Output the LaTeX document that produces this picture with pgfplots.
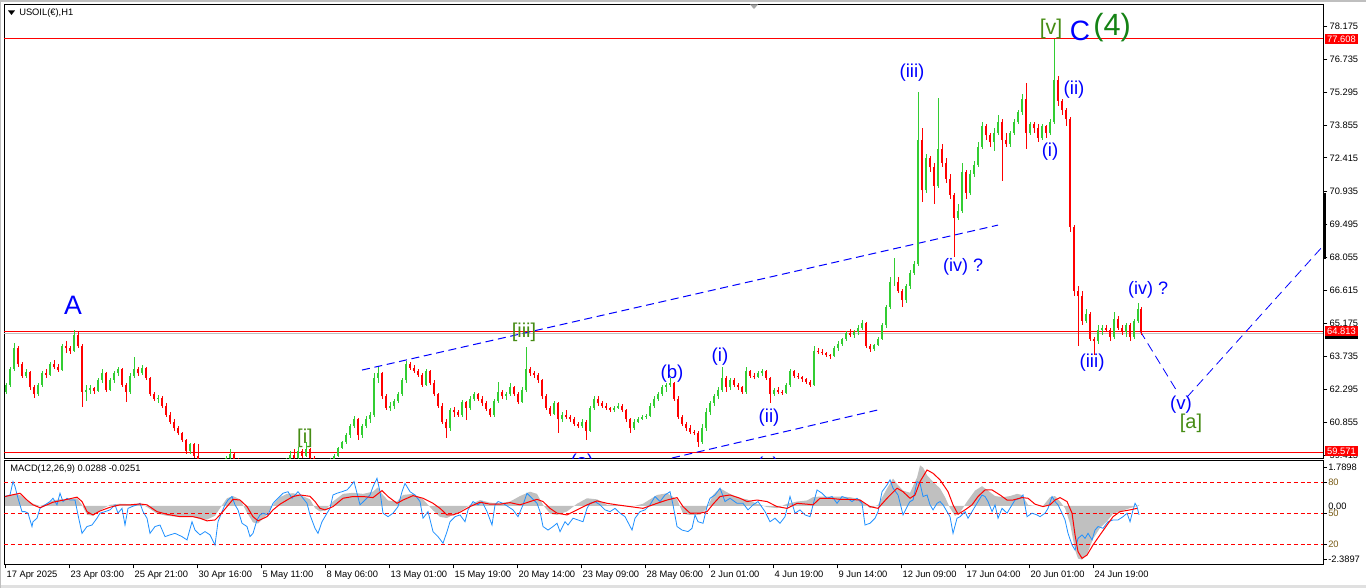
\documentclass[border=0pt]{standalone}
\usepackage{fontspec}
\setmainfont{Liberation Sans}
\usepackage{pgfplots}
\pgfplotsset{compat=1.18}
\usepackage{pgfplotstable}

\definecolor{candleup}{RGB}{50,205,50}
\definecolor{candledn}{RGB}{255,0,0}
\definecolor{wave}{RGB}{0,0,255}
\definecolor{wavegreen}{RGB}{70,140,20}
\definecolor{degree}{RGB}{20,130,20}
\definecolor{histo}{RGB}{192,192,192}
\definecolor{macdblue}{RGB}{30,144,255}
\definecolor{lvl}{RGB}{120,90,20}

% hourly USOIL candles, grouped (x = screen position)
\pgfplotstableread{
x o h l c
6 62.20 62.60 62.10 62.50
10 62.50 63.30 62.40 63.20
14 63.20 64.35 63.10 64.10
18 64.10 64.20 63.30 63.40
22 63.40 63.50 62.80 62.90
26 62.90 63.20 62.80 63.05
30 63.05 63.10 62.30 62.40
34 62.40 62.50 61.95 62.10
38 62.10 62.60 62.00 62.50
42 62.50 63.10 62.40 63.00
46 63.00 63.20 62.80 62.95
50 62.95 63.50 62.90 63.40
54 63.40 63.60 63.20 63.30
58 63.30 63.40 63.05 63.15
62 63.15 64.30 63.10 64.20
66 64.20 64.40 63.90 64.10
70 64.10 64.20 63.85 64.00
74 64.00 64.90 63.95 64.70
78 64.70 64.80 64.10 64.20
82 64.20 64.30 61.55 62.20
86 62.20 62.50 61.80 62.30
90 62.30 62.50 62.10 62.35
94 62.35 62.40 62.10 62.25
98 62.25 62.80 62.20 62.70
102 62.70 63.20 62.60 63.00
106 63.00 63.05 62.20 62.30
110 62.30 62.80 62.25 62.70
114 62.70 63.10 62.60 63.00
118 63.00 63.30 62.90 63.20
122 63.20 63.25 62.40 62.50
126 62.50 62.60 61.75 62.20
130 62.20 63.00 62.10 62.90
134 62.90 63.70 62.80 63.20
138 63.20 63.30 62.90 63.00
142 63.00 63.35 62.95 63.25
146 63.25 63.30 62.70 62.80
150 62.80 62.85 62.00 62.10
154 62.10 62.20 61.80 61.90
158 61.90 62.05 61.70 61.95
162 61.95 62.00 61.50 61.60
166 61.60 61.70 61.10 61.20
170 61.20 61.30 60.80 60.90
174 60.90 61.00 60.50 60.60
178 60.60 60.70 60.30 60.40
182 60.40 60.45 60.00 60.10
186 60.10 60.15 59.50 59.60
190 59.60 59.98 59.50 59.90
194 59.90 59.98 59.30 59.40
198 59.40 59.90 58.90 59.00
202 59.00 59.20 58.70 58.80
206 58.80 59.00 58.50 58.70
210 58.70 58.90 58.40 58.60
214 58.60 58.80 58.30 58.50
218 58.50 58.90 58.40 58.80
222 58.80 59.20 58.70 59.10
226 59.10 59.40 59.00 59.30
230 59.30 59.70 59.20 59.50
234 59.50 59.55 59.10 59.20
238 59.20 59.30 58.80 58.90
242 58.90 59.00 58.60 58.70
246 58.70 58.80 58.40 58.50
250 58.50 58.70 58.30 58.60
254 58.60 58.80 58.40 58.50
258 58.50 58.60 58.20 58.30
262 58.30 58.60 58.20 58.50
266 58.50 58.80 58.40 58.70
270 58.70 58.90 58.50 58.60
274 58.60 59.00 58.50 58.90
278 58.90 59.10 58.70 59.00
282 59.00 59.20 58.80 58.90
286 58.90 59.30 58.85 59.20
290 59.20 59.60 59.10 59.45
294 59.45 59.70 59.20 59.30
298 59.30 59.80 59.25 59.60
302 59.60 59.70 59.30 59.40
306 59.40 60.00 59.35 59.70
310 59.70 59.75 59.20 59.30
314 59.30 59.40 58.90 59.00
318 59.00 59.10 58.80 58.90
322 58.90 59.00 58.70 58.80
326 58.80 59.10 58.70 59.00
330 59.00 59.30 58.90 59.20
334 59.20 59.50 59.10 59.40
338 59.40 59.80 59.35 59.75
342 59.75 60.05 59.70 60.00
346 60.00 60.40 59.90 60.30
350 60.30 60.80 60.20 60.70
354 60.70 61.15 60.60 61.00
358 61.00 61.05 60.10 60.30
362 60.30 60.80 60.20 60.70
366 60.70 61.15 60.60 61.00
370 61.00 61.30 60.85 61.20
374 61.20 63.00 61.10 62.80
378 62.80 63.30 62.60 63.00
382 63.00 63.05 61.90 62.00
386 62.00 62.10 61.40 61.50
390 61.50 61.75 61.35 61.60
394 61.60 61.90 61.45 61.80
398 61.80 62.20 61.70 62.10
402 62.10 62.80 62.00 62.70
406 62.70 63.55 62.60 63.40
410 63.40 63.50 63.15 63.25
414 63.25 63.35 63.00 63.10
418 63.10 63.20 62.85 62.95
422 62.95 63.00 62.40 62.50
426 62.50 63.20 62.45 63.10
430 63.10 63.15 62.50 62.60
434 62.60 62.70 62.00 62.10
438 62.10 62.15 61.50 61.60
442 61.60 61.70 60.80 60.90
446 60.90 61.00 60.20 60.60
450 60.60 61.50 60.50 61.40
454 61.40 61.55 61.10 61.30
458 61.30 61.40 61.10 61.20
462 61.20 61.85 61.10 61.75
466 61.75 61.80 60.95 61.50
470 61.50 62.00 61.40 61.90
474 61.90 62.20 61.80 62.10
478 62.10 62.15 61.80 61.90
482 61.90 62.00 61.60 61.70
486 61.70 61.80 61.35 61.45
490 61.45 61.50 61.10 61.20
494 61.20 61.90 61.10 61.80
498 61.80 62.65 61.70 62.20
502 62.20 62.30 61.90 62.00
506 62.00 62.20 61.85 62.10
510 62.10 62.60 62.00 62.40
514 62.40 62.45 62.00 62.10
518 62.10 62.20 61.65 61.75
522 61.75 62.40 61.70 62.30
526 62.30 64.15 62.20 63.20
530 63.20 63.30 62.90 63.00
534 63.00 63.10 62.80 62.95
538 62.95 63.00 62.60 62.70
542 62.70 62.75 61.90 62.00
546 62.00 62.10 61.40 61.50
550 61.50 61.60 61.15 61.25
554 61.25 61.80 61.20 61.70
558 61.70 61.75 60.40 61.00
562 61.00 61.30 60.90 61.20
566 61.20 61.40 61.00 61.10
570 61.10 61.20 60.90 61.00
574 61.00 61.10 60.70 60.80
578 60.80 60.90 60.60 60.70
582 60.70 61.00 60.60 60.90
586 60.90 60.95 60.10 60.50
590 60.50 61.60 60.45 61.50
594 61.50 62.00 61.40 61.90
598 61.90 62.00 61.60 61.70
602 61.70 61.80 61.50 61.60
606 61.60 61.70 61.40 61.50
610 61.50 61.55 61.30 61.40
614 61.40 61.60 61.30 61.50
618 61.50 61.70 61.45 61.60
622 61.60 61.65 61.30 61.40
626 61.40 61.45 60.90 61.00
630 61.00 61.05 60.40 60.60
634 60.60 61.00 60.55 60.90
638 60.90 61.10 60.85 61.00
642 61.00 61.20 60.95 61.10
646 61.10 61.25 61.00 61.15
650 61.15 61.70 61.10 61.60
654 61.60 62.00 61.50 61.90
658 61.90 62.20 61.80 62.10
662 62.10 62.50 62.00 62.40
666 62.40 62.60 62.20 62.50
670 62.50 62.80 62.40 62.60
674 62.60 62.65 61.80 61.90
678 61.90 62.00 61.00 61.10
682 61.10 61.20 60.70 60.80
686 60.80 60.90 60.50 60.60
690 60.60 60.75 60.35 60.45
694 60.45 60.55 60.30 60.40
698 60.40 60.50 59.80 60.00
702 60.00 60.80 59.90 60.60
706 60.60 61.50 60.50 61.30
710 61.30 61.80 61.20 61.70
714 61.70 62.10 61.60 62.00
718 62.00 62.40 61.90 62.30
722 62.30 63.30 62.20 62.80
726 62.80 62.90 62.20 62.40
730 62.40 62.80 62.30 62.70
734 62.70 62.80 62.40 62.50
738 62.50 62.60 62.30 62.40
742 62.40 62.45 62.10 62.20
746 62.20 63.30 62.10 63.10
750 63.10 63.15 62.80 62.90
754 62.90 63.00 62.75 62.85
758 62.85 63.10 62.80 63.00
762 63.00 63.20 62.90 63.10
766 63.10 63.15 62.70 62.80
770 62.80 62.85 61.70 62.10
774 62.10 62.35 62.00 62.30
778 62.30 62.40 62.10 62.20
782 62.20 62.30 62.05 62.15
786 62.15 62.60 62.10 62.50
790 62.50 63.20 62.40 63.10
794 63.10 63.15 62.80 62.90
798 62.90 63.00 62.75 62.85
802 62.85 62.90 62.65 62.75
806 62.75 62.80 62.55 62.65
810 62.65 62.70 62.40 62.50
814 62.50 64.20 62.45 64.00
818 64.00 64.10 63.85 63.95
822 63.95 64.05 63.80 63.90
826 63.90 63.95 63.70 63.80
830 63.80 63.85 63.65 63.75
834 63.75 64.20 63.70 64.10
838 64.10 64.40 64.00 64.30
842 64.30 64.55 64.20 64.50
846 64.50 64.85 64.40 64.75
850 64.75 64.95 64.60 64.70
854 64.70 64.90 64.55 64.80
858 64.80 65.10 64.70 65.00
862 65.00 65.35 64.90 65.20
866 65.20 65.25 64.10 64.20
870 64.20 64.30 63.95 64.05
874 64.05 64.30 64.00 64.25
878 64.25 64.60 64.20 64.50
882 64.50 65.20 64.45 65.10
886 65.10 66.00 65.00 65.90
890 65.90 67.20 65.80 67.00
894 67.00 68.05 66.80 67.00
898 67.00 67.20 66.50 66.60
902 66.60 66.70 65.90 66.20
906 66.20 66.90 66.10 66.80
910 66.80 67.50 66.70 67.40
914 67.40 67.90 67.30 67.80
918 67.80 75.30 67.70 73.20
922 73.20 73.70 70.50 71.00
926 71.00 72.60 70.90 72.40
930 72.40 72.50 71.80 72.00
934 72.00 72.20 70.40 71.20
938 71.20 75.05 71.10 72.80
942 72.80 73.00 72.00 72.20
946 72.20 72.40 71.30 71.50
950 71.50 71.70 70.60 70.80
954 70.80 70.90 68.10 69.80
958 69.80 70.40 69.70 70.10
962 70.10 72.20 70.00 71.80
966 71.80 71.90 70.60 70.90
970 70.90 71.90 70.80 71.70
974 71.70 72.30 71.60 72.10
978 72.10 73.10 72.00 72.90
982 72.90 74.00 72.80 73.80
986 73.80 73.90 73.20 73.40
990 73.40 73.50 72.90 73.10
994 73.10 73.70 72.70 73.50
998 73.50 74.30 73.40 74.00
1002 74.00 74.10 71.40 73.20
1006 73.20 73.50 72.90 73.00
1010 73.00 73.60 72.90 73.50
1014 73.50 74.10 73.40 74.00
1018 74.00 74.50 73.90 74.40
1022 74.40 75.20 74.30 75.00
1026 75.00 75.70 72.80 73.50
1030 73.50 74.00 73.40 73.90
1034 73.90 74.00 73.50 73.70
1038 73.70 73.90 73.10 73.30
1042 73.30 73.90 73.20 73.80
1046 73.80 73.85 73.30 73.50
1050 73.50 74.10 73.40 74.00
1054 74.00 77.61 73.90 75.80
1058 75.80 76.00 74.70 74.90
1062 74.90 75.00 74.30 74.50
1066 74.50 74.60 73.80 74.10
1070 74.10 74.20 69.20 69.40
1074 69.40 69.50 66.40 66.60
1078 66.60 66.80 64.20 66.40
1082 66.40 66.60 65.10 65.30
1086 65.30 65.80 65.20 65.60
1090 65.60 65.70 64.40 64.50
1094 64.50 64.60 63.80 64.40
1098 64.40 65.10 64.30 64.90
1102 64.90 65.10 64.70 65.00
1106 65.00 65.10 64.80 64.90
1110 64.90 65.00 64.40 64.60
1114 64.60 65.70 64.50 65.40
1118 65.40 65.50 64.90 65.00
1122 65.00 65.10 64.70 64.80
1126 64.80 65.20 64.60 65.10
1130 65.10 65.20 64.40 64.60
1134 64.60 65.40 64.50 65.30
1138 65.30 66.10 65.20 65.80
1141 65.80 65.90 64.70 64.80
}\candles

% MACD histogram
\pgfplotstableread{
x v
5 0.45
15 0.55
20 0.50
27 0.25
33 0.10
40 0.00
47 0.10
53 0.25
60 0.30
67 0.30
77 0.35
82 0.05
87 -0.40
93 -0.45
100 -0.20
110 0.05
120 0.10
130 0.08
140 0.10
147 -0.05
157 -0.35
167 -0.45
180 -0.50
193 -0.50
200 -0.60
207 -0.62
215 -0.45
220 -0.10
227 0.35
233 0.45
240 0.30
247 -0.30
253 -0.75
258 -0.80
267 -0.40
273 0.05
280 0.40
287 0.55
293 0.58
300 0.50
310 0.30
315 -0.10
320 -0.25
325 -0.20
333 0.20
343 0.55
353 0.60
363 0.55
373 0.65
378 0.85
382 0.55
388 0.25
397 0.20
403 0.50
413 0.55
423 0.30
433 -0.20
440 -0.50
447 -0.55
453 -0.40
460 -0.25
470 0.05
480 0.27
490 0.15
500 0.12
510 0.20
520 0.45
530 0.65
537 0.55
543 0.05
550 -0.35
557 -0.41
567 -0.25
577 0.10
587 0.35
597 0.30
607 0.05
617 0.05
630 -0.05
643 0.10
657 0.50
667 0.58
677 0.30
683 -0.35
690 -0.41
700 -0.40
707 -0.10
713 0.50
720 0.80
730 0.55
740 0.35
747 0.30
757 0.10
767 -0.05
777 -0.10
787 0.10
797 0.20
807 0.25
813 0.40
820 0.43
830 0.43
840 0.43
850 0.40
860 0.30
870 -0.10
878 0.05
887 0.80
893 1.25
897 1.00
903 0.70
910 0.60
917 1.30
920 1.85
923 1.75
927 1.40
933 1.10
940 0.80
945 0.40
950 -0.10
955 -0.45
960 -0.30
967 0.20
975 0.70
982 0.90
988 0.70
995 0.45
1003 0.40
1010 0.45
1017 0.55
1022 0.50
1028 0.05
1035 0.00
1043 0.00
1050 0.40
1055 0.45
1060 0.20
1065 -0.10
1070 -0.80
1075 -2.00
1078 -2.40
1082 -2.45
1087 -2.20
1093 -1.50
1100 -1.00
1107 -0.70
1113 -0.35
1120 -0.25
1130 -0.10
1137 0.00
1139 0.05
}\hist

% signal line
\pgfplotstableread{
x v
5 0.43
15 0.53
20 0.58
27 0.27
33 0.05
40 -0.08
47 0.05
53 0.17
67 0.30
77 0.40
82 0.20
87 -0.26
93 -0.41
100 -0.23
110 -0.06
120 0.05
130 0.05
140 0.09
147 0.05
157 -0.26
167 -0.38
180 -0.49
193 -0.49
200 -0.56
207 -0.68
215 -0.64
220 -0.41
227 -0.03
233 0.30
240 0.27
247 -0.03
253 -0.49
258 -0.68
267 -0.49
273 -0.18
280 0.08
287 0.27
293 0.43
300 0.50
310 0.44
315 0.20
320 -0.11
325 -0.18
333 -0.03
343 0.35
353 0.43
363 0.43
373 0.38
382 0.70
388 0.43
397 0.12
403 0.27
413 0.47
423 0.35
433 0.12
440 -0.11
447 -0.41
453 -0.41
460 -0.29
470 -0.03
480 0.17
490 0.08
500 0.08
510 0.15
520 0.05
530 0.20
537 0.30
543 0.20
550 -0.11
557 -0.33
567 -0.41
577 -0.18
587 0.05
597 0.23
607 0.12
617 0.05
630 -0.03
643 -0.11
657 0.12
667 0.27
677 0.38
683 -0.03
690 -0.33
700 -0.33
707 -0.26
713 0.08
720 0.43
730 0.50
740 0.35
747 0.20
757 0.27
767 0.20
777 -0.03
787 -0.11
797 0.12
807 0.08
813 0.05
820 0.35
830 0.35
840 0.30
850 0.30
860 0.27
870 -0.03
878 -0.11
887 0.35
897 0.81
903 0.65
910 0.35
915 0.50
920 1.11
927 1.64
933 1.49
940 1.19
948 0.65
953 0.05
958 -0.38
965 -0.18
972 0.05
978 0.43
985 0.73
992 0.73
1000 0.50
1007 0.27
1013 0.27
1022 0.38
1028 0.35
1035 0.08
1043 -0.03
1050 0.05
1055 0.27
1060 0.38
1067 0.20
1072 -0.33
1075 -1.32
1078 -2.09
1082 -2.39
1087 -2.24
1093 -1.78
1100 -1.32
1107 -0.87
1113 -0.49
1120 -0.26
1130 -0.18
1137 -0.11
}\sig

% blue oscillator line
\pgfplotstableread{
x v
5 0.43
10 0.50
13 1.11
15 0.88
18 0.35
22 -0.26
25 -0.26
28 -0.33
32 -0.94
33 -0.72
37 -0.56
40 -0.11
45 0.05
50 0.20
53 0.35
57 0.05
60 0.58
63 0.20
67 0.35
70 0.27
75 0.27
78 -0.41
82 -1.25
87 -0.94
92 -0.87
97 -0.56
100 -0.33
105 -0.26
110 -0.18
115 0.05
118 -0.33
122 -0.11
125 -0.87
128 -0.11
132 -0.03
137 0.05
140 0.12
143 -0.26
147 -0.56
150 -1.25
155 -0.94
160 -0.87
165 -1.40
170 -1.32
175 -1.25
182 -1.40
187 -1.55
192 -0.72
195 -1.10
200 -1.32
205 -1.17
210 -1.32
215 -1.78
218 -0.72
222 -0.26
225 0.05
228 0.27
232 0.43
235 0.05
238 -0.18
242 -0.79
247 -0.94
250 -1.40
253 -1.25
257 -0.64
260 -0.41
263 -0.33
268 -0.41
273 0.12
278 0.35
283 0.58
288 0.65
292 0.35
295 0.50
298 0.65
303 0.35
307 0.12
310 -0.41
315 -1.02
318 -1.25
322 -0.72
327 -0.33
330 -0.11
333 0.50
337 0.58
342 0.65
347 0.73
350 0.88
354 1.11
357 0.58
360 0.05
365 0.27
370 0.50
373 0.88
377 1.26
380 0.65
383 -0.33
388 -0.49
393 -0.33
398 -0.03
402 0.65
405 1.03
410 0.65
415 0.50
420 0.20
423 -0.56
428 -0.26
433 -1.17
438 -1.40
443 -1.70
447 -1.17
450 -0.72
455 -0.49
460 -0.41
465 -0.72
468 -0.18
473 0.20
478 0.05
482 0.20
487 -0.26
492 -0.87
495 0.05
498 0.20
503 0.12
508 -0.03
513 -0.18
518 -0.49
523 0.05
527 0.58
532 0.35
537 0.12
540 -0.26
543 -0.94
548 -1.10
553 -0.94
557 -0.79
560 -1.17
565 -0.72
568 -0.87
573 -0.56
578 -0.64
583 -0.72
587 -0.11
590 0.12
595 0.20
600 0.05
605 -0.18
610 -0.26
615 -0.11
620 -0.33
625 -0.49
632 -1.10
635 -0.56
640 -0.26
645 -0.18
650 0.05
655 0.43
660 0.20
665 0.50
670 0.65
673 0.05
677 -0.94
682 -1.10
688 -1.17
692 -1.02
695 -0.41
698 -0.72
703 -0.79
707 -0.03
710 0.35
715 0.50
720 0.81
725 0.20
730 0.35
737 0.12
743 0.12
748 -0.18
753 0.05
758 0.20
765 -0.26
770 -0.72
775 -0.56
780 -0.79
785 -0.49
790 0.43
795 -0.33
800 -0.18
805 -0.41
810 -0.49
813 0.05
817 0.73
822 0.58
827 0.35
832 0.43
837 0.12
842 0.43
847 0.35
852 0.20
857 0.35
862 0.12
865 -0.87
870 -0.79
875 -0.56
878 -0.26
882 0.65
887 0.96
890 1.19
893 0.81
898 0.50
903 -0.41
908 0.05
910 0.20
913 0.27
917 1.11
920 1.03
923 0.43
927 0.50
930 0.05
933 -0.18
937 0.12
940 0.20
943 0.05
947 -0.26
950 -0.49
953 -1.25
957 -0.56
960 -0.49
965 -0.26
968 -0.56
973 -0.18
978 0.20
982 0.50
985 0.43
988 0.20
992 -0.26
995 0.05
998 -0.56
1002 -0.11
1007 -0.33
1012 0.05
1015 0.27
1020 0.35
1023 0.50
1027 -0.49
1032 -0.33
1037 -0.41
1040 -0.49
1045 -0.33
1048 -0.11
1052 0.43
1055 0.20
1058 0.05
1062 -0.33
1065 -0.64
1068 -1.25
1072 -1.78
1075 -2.01
1078 -1.48
1082 -1.32
1085 -1.48
1088 -1.25
1092 -1.55
1095 -1.10
1098 -0.94
1103 -1.02
1108 -0.72
1113 -0.64
1118 -0.64
1123 -0.49
1127 -0.33
1130 -0.72
1133 -0.18
1135 0.12
1137 -0.03
1139 -0.41
}\blu

\begin{document}
\begin{tikzpicture}
\useasboundingbox (0pt,0pt) rectangle (1024.5pt,441pt);
\fill[white] (0pt,0pt) rectangle (1024.5pt,441pt);
\fill[black!12] (0pt,0pt) rectangle (1024.5pt,2.25pt);
\fill[black!25] (0pt,439.5pt) rectangle (1024.5pt,441pt);
\fill[black!25] (0pt,0pt) rectangle (1.1pt,441pt);

% ---------------- price panel ----------------
\begin{axis}[
  at={(3pt,97.275pt)}, anchor=south west, scale only axis,
  width=989.5pt, height=340.5pt,
  xmin=4, xmax=1323.3, ymin=59.297, ymax=79.122,
  axis line style={black, line width=0.75pt},
  xtick=\empty,
  ytick={59.415,60.855,62.295,63.735,65.175,66.615,68.055,69.495,70.935,72.415,73.855,75.295,76.735,78.175},
  yticklabels={59.415,60.855,62.295,63.735,65.175,66.615,68.055,69.495,70.935,72.415,73.855,75.295,76.735,78.175},
  ytick pos=right, yticklabel pos=right,
  tick align=outside, major tick length=3pt,
  tick style={black, line width=0.6pt},
  yticklabel style={font=\fontsize{7}{8}\selectfont, inner sep=1pt, xshift=0.5pt},
]
% horizontal levels
\addplot[red, line width=0.75pt, forget plot] coordinates {(4,77.608) (1323.3,77.608)};
\addplot[black!25, line width=0.75pt, forget plot] coordinates {(4,64.74) (1323.3,64.74)};
\addplot[red, line width=0.75pt, forget plot] coordinates {(4,64.813) (1323.3,64.813)};
\addplot[red, line width=0.75pt, forget plot] coordinates {(4,59.571) (1323.3,59.571)};
% trend lines and projection
\addplot[wave, line width=0.75pt, dash pattern=on 6pt off 3.5pt, forget plot] coordinates {(362,63.15) (998,69.48)};
\addplot[wave, line width=0.75pt, dash pattern=on 6pt off 3.5pt, forget plot] coordinates {(672,59.31) (878,61.41)};
\addplot[wave, line width=0.6pt, dash pattern=on 7pt off 4pt, forget plot] coordinates {(1140,64.86) (1178,62.15)};
\addplot[wave, line width=0.6pt, dash pattern=on 7pt off 4pt, forget plot] coordinates {(1187,61.97) (1322,68.52)};
% candles: wicks
\addplot[draw=none, forget plot, restrict expr to domain={\thisrow{c}-\thisrow{o}}{0:100},
  error bars/.cd, y dir=both, y explicit, error mark=none,
  error bar style={draw=candleup, line width=0.6pt}]
  table[x=x, y=c, y error plus expr=\thisrow{h}-\thisrow{c}, y error minus expr=\thisrow{c}-\thisrow{l}] {\candles};
\addplot[draw=none, forget plot, restrict expr to domain={\thisrow{c}-\thisrow{o}}{-100:-0.0001},
  error bars/.cd, y dir=both, y explicit, error mark=none,
  error bar style={draw=candledn, line width=0.6pt}]
  table[x=x, y=c, y error plus expr=\thisrow{h}-\thisrow{c}, y error minus expr=\thisrow{c}-\thisrow{l}] {\candles};
% candles: bodies
\addplot[draw=none, forget plot, restrict expr to domain={\thisrow{c}-\thisrow{o}}{0:100},
  error bars/.cd, y dir=minus, y explicit, error mark=none,
  error bar style={draw=candleup, line width=1.5pt}]
  table[x=x, y=c, y error minus expr=\thisrow{c}-\thisrow{o}] {\candles};
\addplot[draw=none, forget plot, restrict expr to domain={\thisrow{c}-\thisrow{o}}{-100:-0.0001},
  error bars/.cd, y dir=plus, y explicit, error mark=none,
  error bar style={draw=candledn, line width=1.5pt}]
  table[x=x, y=c, y error plus expr=\thisrow{o}-\thisrow{c}] {\candles};
% wave labels
\node[wave, font=\fontsize{20}{22}\selectfont] at (axis cs:73,65.99) {A};
\node[wavegreen, font=\fontsize{15}{17}\selectfont] at (axis cs:305,60.18) {[i]};
\node[wavegreen, font=\fontsize{15}{17}\selectfont] at (axis cs:524,64.81) {[iii]};
\node[wave, font=\fontsize{14}{16}\selectfont] at (axis cs:582,59.09) {(a)};
\node[wave, font=\fontsize{14}{16}\selectfont] at (axis cs:672,62.98) {(b)};
\node[wave, font=\fontsize{14}{16}\selectfont] at (axis cs:768,58.96) {(c)};
\node[wave, font=\fontsize{14}{16}\selectfont] at (axis cs:720,63.72) {(i)};
\node[wave, font=\fontsize{14}{16}\selectfont] at (axis cs:769,61.06) {(ii)};
\node[wave, font=\fontsize{14}{16}\selectfont] at (axis cs:912,76.12) {(iii)};
\node[wave, font=\fontsize{13.5}{16}\selectfont] at (axis cs:963,67.65) {(iv) ?};
\node[wave, font=\fontsize{14}{16}\selectfont] at (axis cs:1050,72.67) {(i)};
\node[wave, font=\fontsize{14}{16}\selectfont] at (axis cs:1074,75.38) {(ii)};
\node[wavegreen, font=\fontsize{16}{18}\selectfont] at (axis cs:1051,78.04) {[v]};
\node[wave, font=\fontsize{21}{23}\selectfont] at (axis cs:1080,77.96) {C};
\node[degree, font=\fontsize{23}{25}\selectfont] at (axis cs:1112,78.09) {(4)};
\node[wave, font=\fontsize{14}{16}\selectfont] at (axis cs:1092,63.46) {(iii)};
\node[wave, font=\fontsize{13.5}{16}\selectfont] at (axis cs:1148,66.65) {(iv) ?};
\node[wave, font=\fontsize{14}{16}\selectfont] at (axis cs:1181,61.62) {(v)};
\node[wavegreen, font=\fontsize{15}{17}\selectfont] at (axis cs:1191,60.84) {[a]};
\end{axis}

% ---------------- MACD panel ----------------
\begin{axis}[
  at={(3pt,17.775pt)}, anchor=south west, scale only axis,
  width=989.5pt, height=77.7pt,
  xmin=4, xmax=1323.3, ymin=-2.662, ymax=2.064,
  axis line style={black, line width=0.75pt},
  ytick=\empty,
  xtick={5,69,133,197,261,325,389,453,517,581,645,709,773,837,901,965,1029,1093},
  xticklabels={17 Apr 2025,23 Apr 03:00,25 Apr 21:00,30 Apr 16:00,5 May 11:00,8 May 06:00,13 May 01:00,15 May 19:00,20 May 14:00,23 May 09:00,28 May 06:00,2 Jun 01:00,4 Jun 19:00,9 Jun 14:00,12 Jun 09:00,17 Jun 04:00,20 Jun 01:00,24 Jun 19:00},
  xtick pos=left, tick align=outside, major tick length=3pt,
  tick style={black, line width=0.6pt},
  xticklabel style={font=\fontsize{7}{8}\selectfont, anchor=north west, inner sep=0pt, xshift=1pt, yshift=-1.5pt},
]
\addplot[fill=histo, draw=none, forget plot] table[x=x, y=v] {\hist} \closedcycle;
\addplot[red, dash pattern=on 3pt off 2.2pt, line width=0.7pt, forget plot] coordinates {(4,1.065) (1323.3,1.065)};
\addplot[red, dash pattern=on 3pt off 2.2pt, line width=0.7pt, forget plot] coordinates {(4,-0.335) (1323.3,-0.335)};
\addplot[red, dash pattern=on 3pt off 2.2pt, line width=0.7pt, forget plot] coordinates {(4,-1.75) (1323.3,-1.75)};
\addplot[macdblue, line width=0.6pt, forget plot] table[x=x, y=v] {\blu};
\addplot[red, line width=0.75pt, forget plot] table[x=x, y=v] {\sig};
\end{axis}

% ---------------- texts and price flags (screen pixels) ----------------
\begin{scope}[x=0.75pt, y=0.75pt]
\fill[black] (8,588-10.5) -- (15,588-10.5) -- (11.5,588-15) -- cycle;
\node[anchor=west, inner sep=0pt, font=\fontsize{7}{8}\selectfont] at (19,588-13) {USOIL(€),H1};
\fill[black!35] (750,588-4.5) -- (758,588-4.5) -- (754,588-9) -- cycle;
\node[anchor=west, inner sep=0pt, font=\fontsize{7}{8}\selectfont] at (10,588-469.5) {MACD(12,26,9) 0.0288 -0.0251};

\draw[black, line width=2.2pt] (1324.2,588-193) -- (1324.2,588-259);

\fill[black] (1325,588-329) rectangle (1358,588-339);
\fill[red] (1325,588-34) rectangle (1358,588-44.5);
\node[white, inner sep=0pt, font=\fontsize{7}{8}\selectfont] at (1341.5,588-39.3) {77.608};
\fill[red] (1325,588-326) rectangle (1358,588-336.5);
\node[white, inner sep=0pt, font=\fontsize{7}{8}\selectfont] at (1341.5,588-331.3) {64.813};
\fill[red] (1325,588-446) rectangle (1358,588-456.5);
\node[white, inner sep=0pt, font=\fontsize{7}{8}\selectfont] at (1341.5,588-451.3) {59.571};

% MACD scale
\foreach \yy in {467.5,482.7,513.3,544.3,559.3} {\draw[black, line width=0.6pt] (1323.3,588-\yy) -- (1327,588-\yy);}
\node[anchor=west, inner sep=0pt, font=\fontsize{7}{8}\selectfont] at (1328,588-467.5) {1.7898};
\node[anchor=west, inner sep=0pt, font=\fontsize{7}{8}\selectfont, text=lvl] at (1328,588-482.7) {80};
\node[anchor=west, inner sep=0pt, font=\fontsize{7}{8}\selectfont] at (1328,588-506.5) {0,00};
\node[anchor=west, inner sep=0pt, font=\fontsize{7}{8}\selectfont, text=lvl] at (1328,588-513.3) {50};
\node[anchor=west, inner sep=0pt, font=\fontsize{7}{8}\selectfont, text=lvl] at (1328,588-544.3) {20};
\node[anchor=west, inner sep=0pt, font=\fontsize{7}{8}\selectfont] at (1328,588-559.3) {-2.3897};
\end{scope}
\end{tikzpicture}
\end{document}
